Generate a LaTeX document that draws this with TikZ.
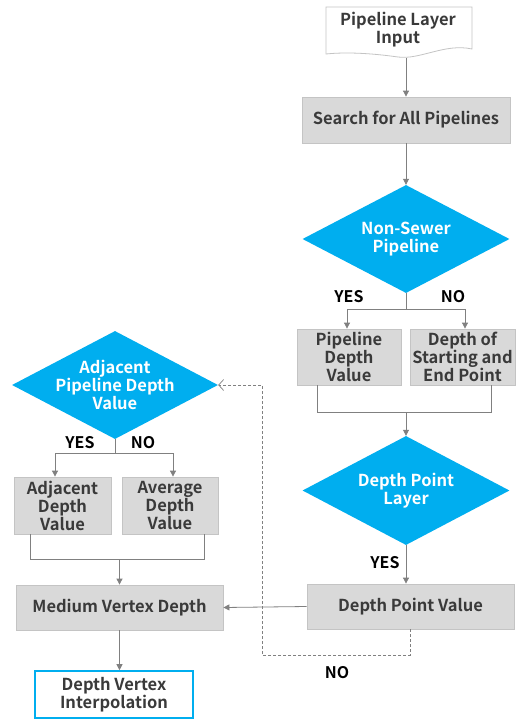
\documentclass[tikz,border=0pt]{standalone}
\usepackage{fontspec}
\setmainfont{Noto Sans CJK KR}[BoldFont={Noto Sans CJK KR Bold}]
\usetikzlibrary{shapes.geometric,arrows.meta}
\definecolor{dia}{HTML}{00AEEF}
\definecolor{boxfill}{HTML}{D9D9D9}
\definecolor{boxline}{HTML}{C4C4C4}
\definecolor{arr}{HTML}{808080}
\definecolor{txt}{HTML}{3A3A3A}
\begin{document}
\begin{tikzpicture}[x=1pt,y=-1pt,
  font=\bfseries\fontsize{16.5}{18}\selectfont,
  gbox/.style={draw=boxline, fill=boxfill, text=txt, inner sep=0pt, align=center, line width=0.8pt},
  dec/.style={shape=diamond, fill=dia, inner sep=0pt},
  dtext/.style={text=white, align=center, inner sep=0pt},
  conn/.style={draw=arr, line width=0.8pt},
  arrow/.style={conn, -{Triangle[width=6pt,length=6pt]}},
  lbl/.style={text=black, font=\bfseries\fontsize{16}{18}\selectfont}
]
\useasboundingbox (0,0) rectangle (521,720);
\fill[white] (0,0) rectangle (521,720);

% input document
\draw[draw=boxline, fill=white, line width=0.8pt] (326,7) -- (472,7) -- (472,49)
  .. controls (445,43) and (420,60) .. (398,57)
  .. controls (370,53) and (345,52) .. (326,54) -- cycle;
\node[text=txt, align=center, minimum width=146, minimum height=48, inner sep=0pt] (input) at (398,30) {Pipeline Layer\\Input};

\node[gbox, minimum width=208, minimum height=46] (search) at (406,120) {Search for All Pipelines};
\draw[arrow] (search.north |- 0,58) -- (search.north);

\node[dec, minimum width=207, minimum height=108, label={[dtext]center:{Non-Sewer\\Pipeline}}] (ns) at (406,239) {};
\draw[arrow] (search.south) -- (ns.north);

\node[gbox, minimum width=104, minimum height=56] (pdv) at (349,357) {Pipeline\\Depth\\Value};
\node[gbox, minimum width=105, minimum height=56] (dse) at (462.5,357) {Depth of\\Starting and\\End Point};
\draw[arrow] (ns.south) -- ++(0,16) -| ([xshift=-2]pdv.north);
\draw[arrow] (ns.south) -- ++(0,16) -| ([xshift=2.5]dse.north);
\node[lbl] (yes1) at (349,297) {YES};
\node[lbl] (no1) at (453,297) {NO};

\node[dec, minimum width=207, minimum height=109, label={[dtext]center:{Depth Point\\Layer}}] (dpl) at (406,490.5) {};
\draw[conn] ([xshift=-32]pdv.south) -- ++(0,27) -| ([xshift=28.5]dse.south);
\coordinate (m1) at (406,412);
\draw[arrow] (m1) -- (dpl.north);

\node[gbox, minimum width=207, minimum height=45] (dpv) at (410.5,606.5) {Depth Point Value};
\draw[arrow] (dpl.south) -- (dpl.south |- dpv.north);
\node[lbl] (yes2) at (385,563) {YES};

\node[gbox, minimum width=207, minimum height=45] (mvd) at (119.5,607.5) {Medium Vertex Depth};
\draw[arrow] (dpv.west) -- (mvd.east);

\node[draw=dia, line width=1.6pt, fill=white, text=txt, align=center, inner sep=0pt, minimum width=158, minimum height=47] (dvi) at (114,694.5) {Depth Vertex\\Interpolation};
\draw[arrow] (mvd.south) -- (mvd.south |- dvi.north);

% adjacent branch
\node[dec, minimum width=206, minimum height=108, label={[dtext]center:{Adjacent\\Pipeline Depth\\Value}}] (adj) at (115,385) {};
\node[gbox, minimum width=97, minimum height=57] (adv) at (62.5,505.5) {Adjacent\\Depth\\Value};
\node[gbox, minimum width=96, minimum height=57] (avg) at (170,505.5) {Average\\Depth\\Value};
\draw[arrow] (adj.south) -- ++(0,14) -| ([xshift=-7.5]adv.north);
\draw[arrow] (adj.south) -- ++(0,14) -| ([xshift=3]avg.north);
\node[lbl] (yes3) at (80,443) {YES};
\node[lbl] (no3) at (143,443) {NO};
\draw[conn] ([xshift=-32.5]adv.south) -- ++(0,25) -| ([xshift=34]avg.south);
\coordinate (m2) at (119.5,559);
\draw[arrow] (m2) -- (mvd.north);

% dashed NO loop
\coordinate (dc) at (262,655);
\draw[conn, line width=0.7pt, dash pattern=on 3pt off 2pt, -{Straight Barb[length=5pt,width=11pt]}] (dpv.south) |- (dc) |- (adj.east);
\node[lbl] (no2) at (337,673) {NO};
\end{tikzpicture}
\end{document}
